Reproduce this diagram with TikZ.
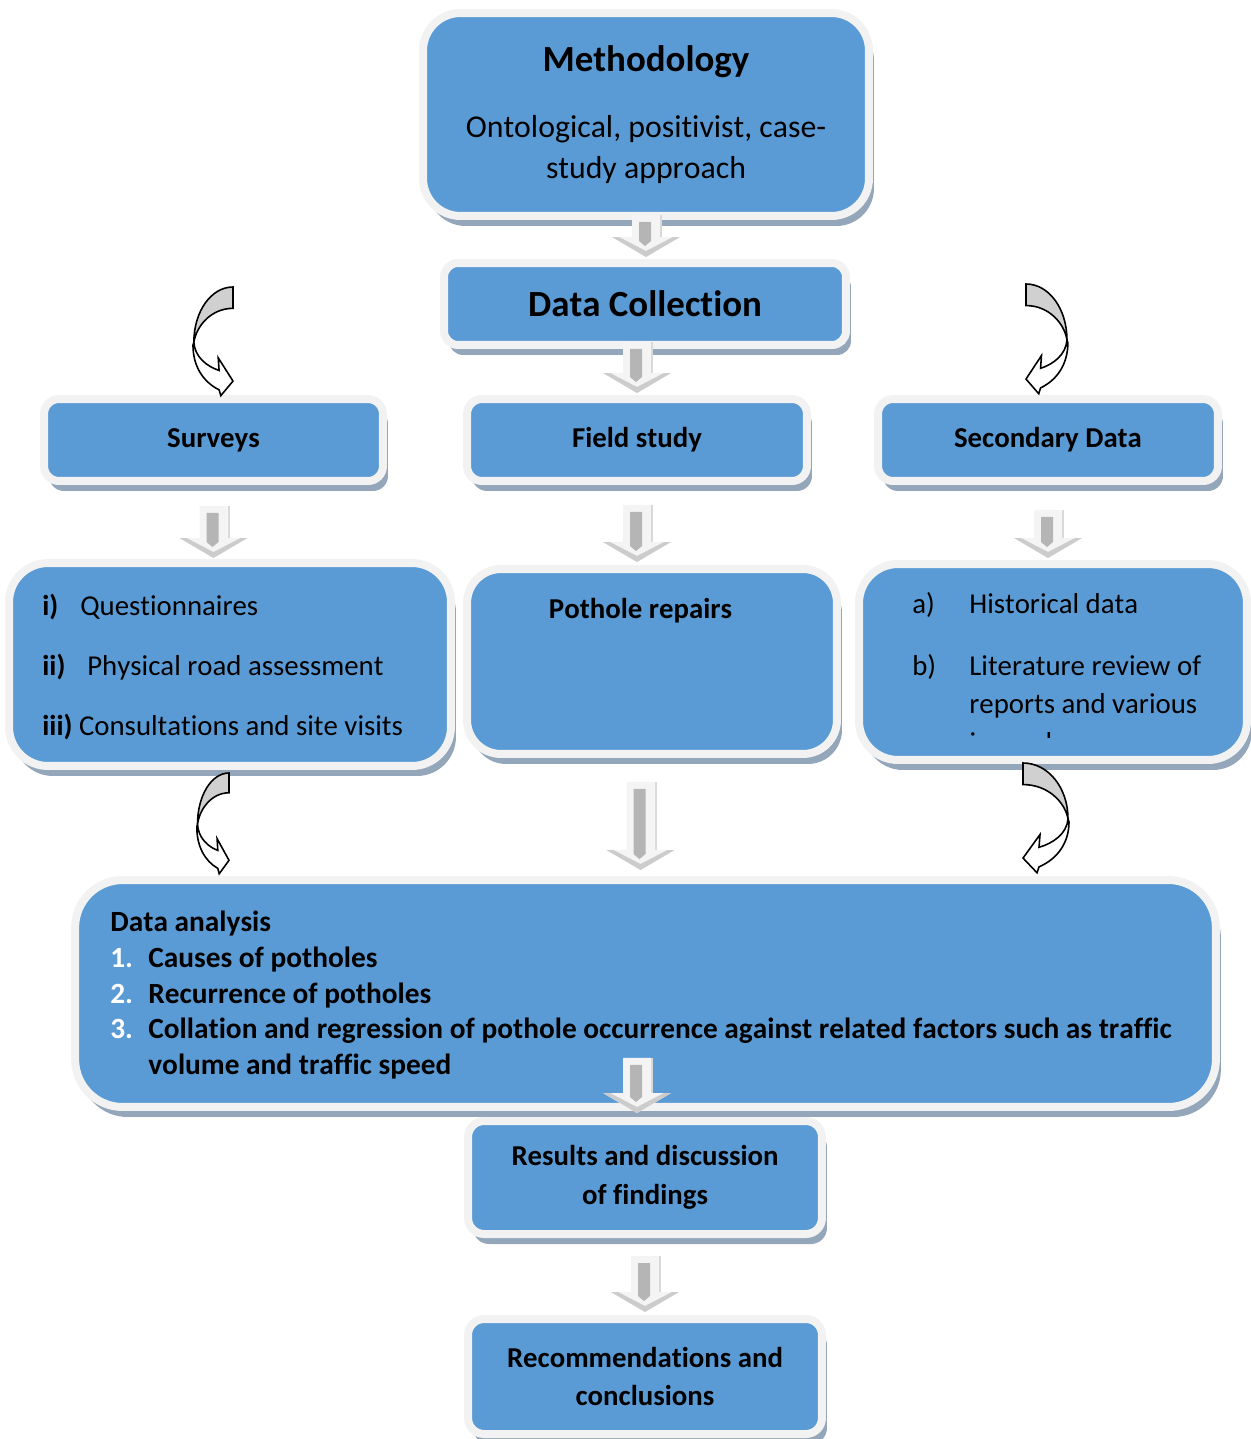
\documentclass[tikz,border=0pt]{standalone}
\usepackage{fontspec}
\setmainfont{Carlito}[Ligatures=NoCommon, Kerning=Off]
\usetikzlibrary{calc,shadows}

\definecolor{boxblue}{RGB}{91,155,213}
\definecolor{rimgray}{RGB}{242,242,242}
\definecolor{shadegray}{RGB}{148,166,186}
\definecolor{curlgray}{RGB}{208,208,208}

\newcommand\headfont{\fontsize{21}{25}\selectfont\bfseries}
\newcommand\bodyfont{\fontsize{16.4}{22}\selectfont}
\newcommand\dafont{\fontsize{16.7}{20}\selectfont\bfseries}

\tikzset{
  stagebox/.style={draw=rimgray, line width=0.16cm, fill=boxblue, rounded corners=#1,
    inner sep=0pt, outer sep=0pt, align=center,
    drop shadow={shadow xshift=0.1cm, shadow yshift=-0.2cm, fill=shadegray, opacity=1}},
  stagebox/.default=0.3cm,
  listline/.style={anchor=base west, inner sep=0pt, font=\bodyfont},
  curl/.pic={
    \filldraw[fill=curlgray, draw=black, line width=0.9pt]
      (0,0) .. controls (25,0) and (45,25) .. (45,57)
      .. controls (42,40) and (25,22) .. (0,22) -- cycle;
    \filldraw[fill=white, draw=black, line width=0.9pt]
      (45,57) .. controls (44,72) and (30,82) .. (16,86) -- (17,73) -- (0,97)
      -- (14,112) -- (16,106) .. controls (34,98) and (46,82) .. (46,60) -- cycle;
  }
}

% light block arrow: #1 top of shaft, #2 height of the tip
\newcommand\blockarrow[2]{%
  \path #1 coordinate (ba-t) #2 coordinate (ba-e);
  \coordinate (ba-b) at (ba-t |- ba-e);
  \fill[gray!9] ($(ba-t)+(-14,0)$) -- ($(ba-t)+(14,0)$) -- ($(ba-b)+(14,-20)$) -- ($(ba-b)+(34,-20)$)
    -- (ba-b) -- ($(ba-b)+(-34,-20)$) -- ($(ba-b)+(-14,-20)$) -- cycle;
  \fill[gray!40] ($(ba-b)+(-34,-20)$) -- (ba-b) -- ($(ba-b)+(34,-20)$) -- ($(ba-b)+(27,-20)$)
    -- ($(ba-b)+(0,-6)$) -- ($(ba-b)+(-27,-20)$) -- cycle;
  \fill[gray!30] ($(ba-t)+(14,0)$) rectangle ($(ba-b)+(16,-20)$);
  \fill[gray!58] ($(ba-t)+(-7,7)$) -- ($(ba-t)+(5,7)$) -- ($(ba-b)+(5,-16)$) -- ($(ba-b)+(-1,-11)$)
    -- ($(ba-b)+(-7,-16)$) -- cycle;
}

\begin{document}
\begin{tikzpicture}[x=0.02cm, y=-0.02cm]
\useasboundingbox (0,0) rectangle (1250,1439);

% boxes
\node[stagebox=0.75cm, minimum width=8.92cm, minimum height=4.06cm, font=\fontsize{18.1}{23.2}\selectfont] (meth) at (646,114.5)
  {{\headfont Methodology}\\[14.2pt]Ontological, positivist, case-\\study approach};
\node[stagebox=0.28cm, minimum width=8.04cm, minimum height=1.64cm, font=\headfont] (dc) at (645,304) {Data Collection};

\node[stagebox, minimum width=6.78cm, minimum height=1.64cm, font=\bodyfont\bfseries] (surv) at (213.5,440) {Surveys};
\node[stagebox, minimum width=6.8cm, minimum height=1.64cm, font=\bodyfont\bfseries] (field) at (637,440) {Field study};
\node[stagebox, minimum width=6.8cm, minimum height=1.64cm, font=\bodyfont\bfseries] (sec) at (1048,440) {Secondary Data};

\node[stagebox=0.78cm, minimum width=8.84cm, minimum height=4.06cm] (qlist) at (230,664.5) {};
\node[stagebox=0.68cm, minimum width=7.4cm, minimum height=3.7cm] (pothole) at (652,661.5) {};
\node[stagebox=0.78cm, minimum width=7.76cm, minimum height=3.92cm] (seclist) at (1053,662) {};

\node[stagebox=0.95cm, minimum width=22.82cm, minimum height=4.54cm] (da) at (645.5,993.5) {};

\node[stagebox=0.32cm, minimum width=7.08cm, minimum height=2.26cm, font=\bodyfont\bfseries] (results) at (645,1177.5)
  {Results and discussion\\of findings};
\node[stagebox=0.32cm, minimum width=7.08cm, minimum height=2.3cm, font=\bodyfont\bfseries] (recs) at (645,1376.5)
  {Recommendations and\\conclusions};

% list texts
\node[listline] (q1) at (42,615) {\makebox[0.76cm][l]{\textbf{i)}}Questionnaires};
\node[listline] (q2) at (42,675) {\makebox[0.9cm][l]{\textbf{ii)}}Physical road assessment};
\node[listline] (q3) at (42,735) {\textbf{iii)} Consultations and site visits};

\node[listline, font=\bodyfont\bfseries, anchor=base] (ptext) at (640.5,618) {Pothole repairs};

\node[listline] (s1) at (912,613) {\makebox[1.14cm][l]{a)}Historical data};
\node[listline] (s2) at (912,675) {\makebox[1.14cm][l]{b)}Literature review of};
\node[listline] (s3) at (969,713) {reports and various};
\begin{scope}
  \clip (860,700) rectangle (1250,737);
  \node[listline] (s4) at (969,752) {journals};
\end{scope}

\node[listline, font=\dafont] (d0) at (110,931) {Data analysis};
\node[listline, font=\dafont] (d1) at (110,967) {\makebox[0.76cm][l]{\color{white}1.}Causes of potholes};
\node[listline, font=\dafont] (d2) at (110,1003) {\makebox[0.76cm][l]{\color{white}2.}Recurrence of potholes};
\node[listline, font=\dafont] (d3) at (110,1038)
  {\makebox[0.76cm][l]{\color{white}3.}Collation and regression of pothole occurrence against related factors such as traffic};
\node[listline, font=\dafont] (d4) at (148,1074) {volume and traffic speed};

% curved arrows
\pic[xscale=-0.87, yscale=0.97] at (233,287) {curl};
\pic[xscale=0.91, yscale=0.98] at (1026,284) {curl};
\pic[xscale=-0.7, yscale=0.9] at (229,773) {curl};
\pic[yscale=0.98] at (1023,763) {curl};

% block arrows
\blockarrow{($(meth.south)+(0,-1)$)}{($(dc.north)+(0,-6)$)}
\blockarrow{($(field.north |- dc.south)+(0,-3)$)}{($(field.north)+(0,-6)$)}
\blockarrow{($(surv.south)+(0,25)$)}{($(qlist.north)+(0,-5)$)}
\blockarrow{($(field.south)+(0,24)$)}{($(pothole.north)+(0,-7)$)}
\blockarrow{($(sec.south)+(0,29)$)}{($(seclist.north)+(0,-6)$)}
\blockarrow{($(ptext.south |- pothole.south)+(0,28)$)}{($(da.north)+(0,-10)$)}
\blockarrow{($(field.south |- da.south)+(0,-49)$)}{($(results.north)+(0,-8)$)}
\blockarrow{($(results.south)+(0,22)$)}{($(recs.north)+(0,-7)$)}
\end{tikzpicture}
\end{document}
